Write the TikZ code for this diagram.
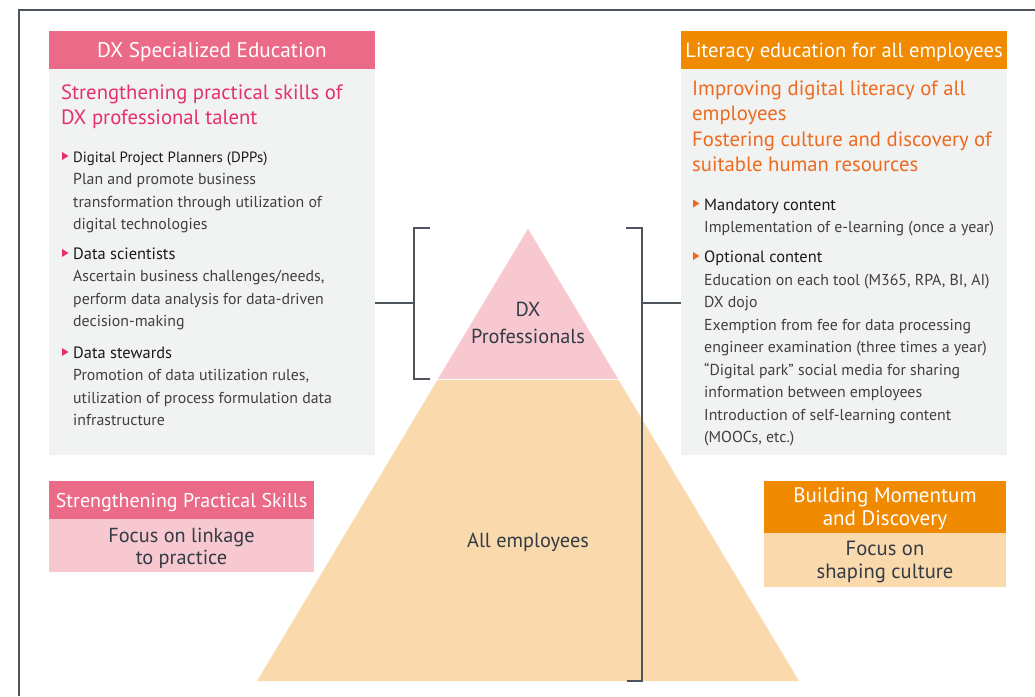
\documentclass[tikz,border=0pt]{standalone}
\usepackage{fontspec}
\setmainfont{PT Sans}
\definecolor{pinkhd}{HTML}{EB6A88}
\definecolor{pinktx}{HTML}{E6306E}
\definecolor{pinklt}{HTML}{F8C8D1}
\definecolor{orghd}{HTML}{F08A00}
\definecolor{orgtx}{HTML}{EE6A1F}
\definecolor{orglt}{HTML}{FAD9AD}
\definecolor{greybg}{HTML}{F1F2F2}
\definecolor{frame}{HTML}{4D545C}
\definecolor{darktx}{HTML}{333B44}
\definecolor{bodytx}{HTML}{404040}
\definecolor{titletx}{HTML}{1A1A1A}
\begin{document}
\begin{tikzpicture}[x=1pt,y=-1pt,
  box/.style={anchor=north west, inner sep=0, outer sep=0, draw=none},
  hd/.style={anchor=base, inner sep=0, text=white, font=\fontsize{20.5}{24}\selectfont},
  sub/.style={anchor=base west, inner sep=0, font=\fontsize{20.7}{25}\selectfont},
  bt/.style={anchor=base west, inner sep=0, text=titletx, font=\fontsize{16.4}{22}\selectfont},
  bd/.style={anchor=base west, inner sep=0, text=bodytx, font=\fontsize{15.85}{22}\selectfont},
  ctr/.style={anchor=base, inner sep=0, text=darktx, font=\fontsize{20.3}{24}\selectfont},
  brk/.style={draw=frame, line width=1.3pt},
]
\useasboundingbox (0,0) rectangle (1035,696);
\fill[white] (0,0) rectangle (1035,696);
\draw[draw=frame, line width=1.4pt] (1035,10) -- (19,10) -- (19,696);

% pyramid
\fill[orglt] (528,229) -- (799,681) -- (257,681) -- cycle;
\fill[pinklt] (528,229) -- (618,379) -- (438,379) -- cycle;
\draw[white, line width=1pt] (437,379.5) -- (619,379.5);
\node[ctr] (dx1) at (528,316) {DX};
\node[ctr] (dx2) at (528,343) {Professionals};
\node[ctr] (allemp) at (528,547) {All employees};

% left box
\node[box, fill=pinkhd, minimum width=326pt, minimum height=38pt] (lhead) at (49,31) {};
\node[box, fill=greybg, minimum width=326pt, minimum height=386pt] (lbody) at (49,69) {};
\node[hd, font=\fontsize{21.2}{24}\selectfont] (lht) at (212,57) {DX Specialized Education};
\node[sub, text=pinktx] (ls1) at (61,99) {Strengthening practical skills of};
\node[sub, text=pinktx] (ls2) at (61,124) {DX professional talent};
\fill[pinktx] (62,152) -- (68.5,156) -- (62,160) -- cycle;
\node[bt, font=\fontsize{14.9}{22}\selectfont] (la1) at (73,162) {Digital Project Planners (DPPs)};
\node[bd] (la2) at (73,184.5) {Plan and promote business};
\node[bd] (la3) at (73,207) {transformation through utilization of};
\node[bd] (la4) at (73,229.5) {digital technologies};
\fill[pinktx] (62,249) -- (68.5,253) -- (62,257) -- cycle;
\node[bt] (lb1) at (73,259) {Data scientists};
\node[bd] (lb2) at (73,281.5) {Ascertain business challenges/needs,};
\node[bd] (lb3) at (73,304) {perform data analysis for data-driven};
\node[bd] (lb4) at (73,326.5) {decision-making};
\fill[pinktx] (62,348) -- (68.5,352) -- (62,356) -- cycle;
\node[bt] (lc1) at (73,358) {Data stewards};
\node[bd] (lc2) at (73,380.5) {Promotion of data utilization rules,};
\node[bd] (lc3) at (73,403) {utilization of process formulation data};
\node[bd] (lc4) at (73,425.5) {infrastructure};

% right box
\node[box, fill=orghd, minimum width=326pt, minimum height=38pt] (rhead) at (681,31) {};
\node[box, fill=greybg, minimum width=326pt, minimum height=386pt] (rbody) at (681,69) {};
\node[hd] (rht) at (844,57) {Literacy education for all employees};
\node[sub, text=orgtx] (rs1) at (692,95) {Improving digital literacy of all};
\node[sub, text=orgtx] (rs2) at (692,120) {employees};
\node[sub, text=orgtx] (rs3) at (692,146) {Fostering culture and discovery of};
\node[sub, text=orgtx] (rs4) at (692,171) {suitable human resources};
\fill[orgtx] (693,199.5) -- (699.5,203.5) -- (693,207.5) -- cycle;
\node[bt] (ra1) at (704,210) {Mandatory content};
\node[bd] (ra2) at (704,232.5) {Implementation of e-learning (once a year)};
\fill[orgtx] (693,252) -- (699.5,256) -- (693,260) -- cycle;
\node[bt] (rb1) at (704,262.5) {Optional content};
\node[bd] (rb2) at (704,285) {Education on each tool (M365, RPA, BI, AI)};
\node[bd] (rb3) at (704,307.5) {DX dojo};
\node[bd] (rb4) at (704,330) {Exemption from fee for data processing};
\node[bd] (rb5) at (704,352.5) {engineer examination (three times a year)};
\node[bd] (rb6) at (704,375) {“Digital park” social media for sharing};
\node[bd] (rb7) at (704,397.5) {information between employees};
\node[bd] (rb8) at (704,420) {Introduction of self-learning content};
\node[bd] (rb9) at (704,442.5) {(MOOCs, etc.)};

% brackets
\coordinate (lbr) at (414,303);
\coordinate (rbr) at (642,303);
\draw[brk] (430,228) -- (414,228) -- (414,379) -- (430,379);
\draw[brk] (626,228) -- (642,228) -- (642,681) -- (627,681);
\draw[brk] (lbody.east |- lbr) -- (lbr);
\draw[brk] (rbr) -- (rbody.west |- rbr);

% bottom left box
\node[box, fill=pinkhd, minimum width=265pt, minimum height=38pt] (blhead) at (49,481) {};
\node[box, fill=pinklt, minimum width=265pt, minimum height=53pt] (blbody) at (49,519) {};
\node[hd, font=\fontsize{20}{24}\selectfont] (blht) at (181.5,507) {Strengthening Practical Skills};
\node[ctr] (blb1) at (181.5,542) {Focus on linkage};
\node[ctr] (blb2) at (181.5,564) {to practice};

% bottom right box
\node[box, fill=orghd, minimum width=242pt, minimum height=52pt] (brhead) at (764,481) {};
\node[box, fill=orglt, minimum width=242pt, minimum height=54pt] (brbody) at (764,533) {};
\node[hd, font=\fontsize{21}{24}\selectfont] (brh1) at (885,502) {Building Momentum};
\node[hd, font=\fontsize{21}{24}\selectfont] (brh2) at (885,525) {and Discovery};
\node[ctr, font=\fontsize{20.6}{24}\selectfont] (brb1) at (885,555) {Focus on};
\node[ctr, font=\fontsize{20.6}{24}\selectfont] (brb2) at (885,578) {shaping culture};
\end{tikzpicture}
\end{document}
